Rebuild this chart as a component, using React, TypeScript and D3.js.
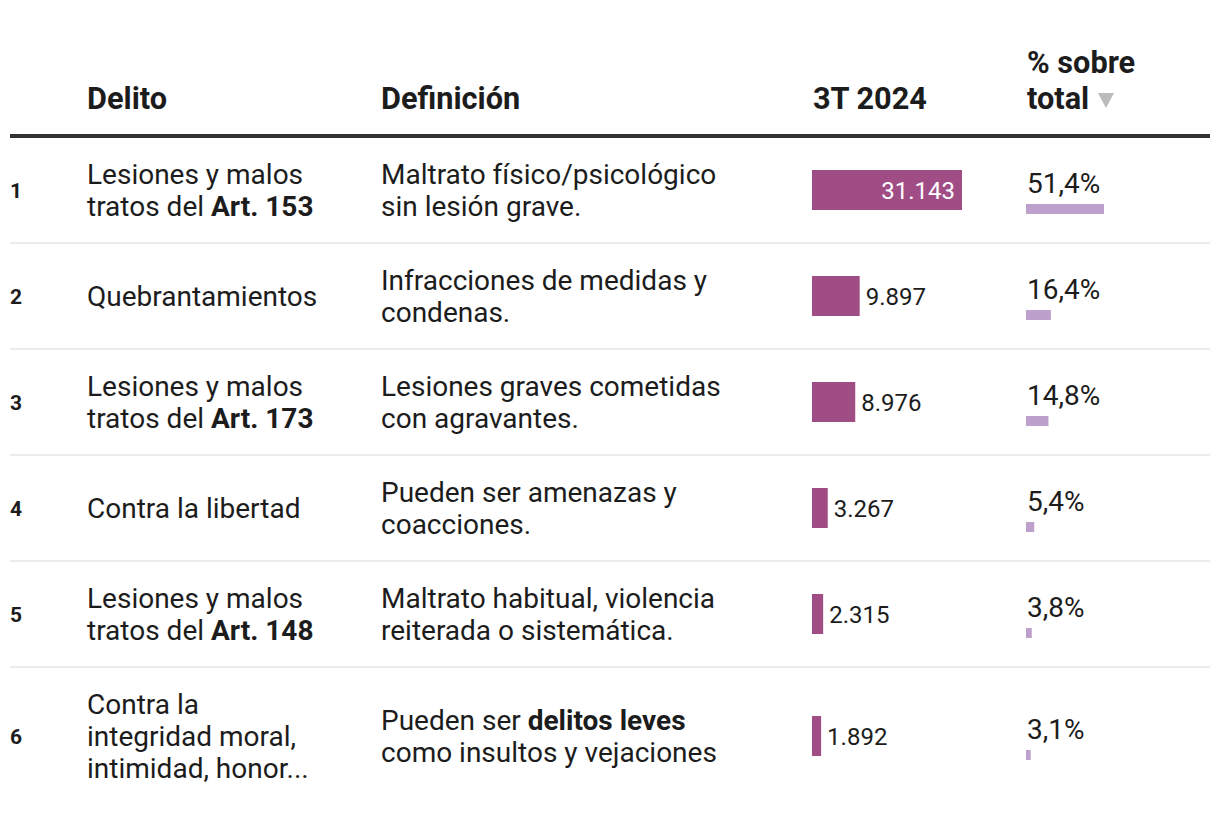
import React from "react";
import * as d3 from "d3";

const ranks = [1, 2, 3, 4, 5, 6];
const delitos = [
  "Lesiones y malos|tratos del **Art. 153**",
  "Quebrantamientos",
  "Lesiones y malos|tratos del **Art. 173**",
  "Contra la libertad",
  "Lesiones y malos|tratos del **Art. 148**",
  "Contra la|integridad moral,|intimidad, honor...",
];
const definiciones = [
  "Maltrato físico/psicológico|sin lesión grave.",
  "Infracciones de medidas y|condenas.",
  "Lesiones graves cometidas|con agravantes.",
  "Pueden ser amenazas y|coacciones.",
  "Maltrato habitual, violencia|reiterada o sistemática.",
  "Pueden ser **delitos leves**|como insultos y vejaciones",
];
const values = [31143, 9897, 8976, 3267, 2315, 1892];
const pcts = [51.4, 16.4, 14.8, 5.4, 3.8, 3.1];
const headers = ["Delito", "Definición", "3T 2024", "% sobre|total"];

const W = 1220;
const H = 814;
const FONT = "Roboto, 'Noto Sans', sans-serif";
const TEXT = "#1c1c1c";
const BAR = "#a04d86";
const PBAR = "#bda0cb";

const locale = d3.formatLocale({ decimal: ",", thousands: ".", grouping: [3], currency: ["", "€"] });
const fmtNum = locale.format(",d");
const fmtPct = locale.format(".1f");

function parseSegs(line: string) {
  const parts = line.split("**");
  return parts.map((t, i) => ({ t, b: i % 2 === 1 })).filter((s) => s.t.length > 0);
}

function MultiText({ text, x, cy, size, lh }: { text: string; x: number; cy: number; size: number; lh: number }) {
  const lines = text.split("|");
  const first = cy - ((lines.length - 1) * lh) / 2 + size * 0.355;
  return (
    <text x={x} fontFamily={FONT} fontSize={size} fill={TEXT}>
      {lines.map((ln, i) => (
        <tspan key={i} x={x} y={first + i * lh}>
          {parseSegs(ln).map((s, j) => (
            <tspan key={j} fontWeight={s.b ? 700 : 400}>
              {s.t}
            </tspan>
          ))}
        </tspan>
      ))}
    </text>
  );
}

export default function App() {
  const colX = { rank: 10, delito: 87, def: 381, bar: 812, pct: 1027 };
  const xBar = d3.scaleLinear().domain([0, d3.max(values) as number]).range([0, 150]);
  const xPct = d3.scaleLinear().domain([0, d3.max(pcts) as number]).range([0, 78]);

  const lineCount = ranks.map((_, i) =>
    Math.max(delitos[i].split("|").length, definiciones[i].split("|").length)
  );
  const tops: number[] = [];
  const heights: number[] = [];
  let y = 138;
  lineCount.forEach((n) => {
    const h = n <= 2 ? 104 : 136;
    tops.push(y);
    heights.push(h);
    y += h + 2;
  });

  const maxV = d3.max(values) as number;

  return (
    <svg width={W} height={H} style={{ display: "block", position: "absolute", left: 0, top: 0 }}>
      <rect width={W} height={H} fill="#fff" />
      {/* header */}
      <g fontFamily={FONT} fontSize={30.7} fontWeight={700} fill={TEXT}>
        <text x={colX.delito} y={109}>{headers[0]}</text>
        <text x={colX.def} y={109}>{headers[1]}</text>
        <text x={colX.bar + 1} y={109}>{headers[2]}</text>
        <text x={colX.pct}>
          <tspan x={colX.pct} y={73}>{headers[3].split("|")[0]}</tspan>
          <tspan x={colX.pct} y={109}>{headers[3].split("|")[1]}</tspan>
        </text>
      </g>
      <path d="M1098,93 L1114,93 L1106,108 Z" fill="#bbbbbb" />
      <rect x={10} y={134} width={1200} height={4} fill="#333" />

      {ranks.map((r, i) => {
        const cy = tops[i] + heights[i] / 2;
        const bw = xBar(values[i]);
        const inside = values[i] / maxV > 0.5;
        return (
          <g key={r}>
            {i < ranks.length - 1 && (
              <rect x={10} y={tops[i] + heights[i]} width={1200} height={2} fill="#ececec" />
            )}
            <text x={colX.rank} y={cy + 7.5} fontFamily={FONT} fontSize={21} fontWeight={700} fill={TEXT}>
              {r}
            </text>
            <MultiText text={delitos[i]} x={colX.delito} cy={cy} size={28} lh={32} />
            <MultiText text={definiciones[i]} x={colX.def} cy={cy} size={28} lh={32} />
            <rect x={colX.bar} y={cy - 20} width={bw} height={40} fill={BAR} />
            <text
              x={inside ? colX.bar + bw - 7 : colX.bar + bw + 6}
              y={cy + 8.5}
              textAnchor={inside ? "end" : "start"}
              fontFamily={FONT}
              fontSize={24}
              fill={inside ? "#fff" : TEXT}
            >
              {fmtNum(values[i])}
            </text>
            <text x={colX.pct} y={cy + 2.5} fontFamily={FONT} fontSize={28} fill={TEXT}>
              {fmtPct(pcts[i]) + "%"}
            </text>
            <rect x={colX.pct - 1} y={cy + 14} width={xPct(pcts[i])} height={10} fill={PBAR} />
          </g>
        );
      })}
    </svg>
  );
}
